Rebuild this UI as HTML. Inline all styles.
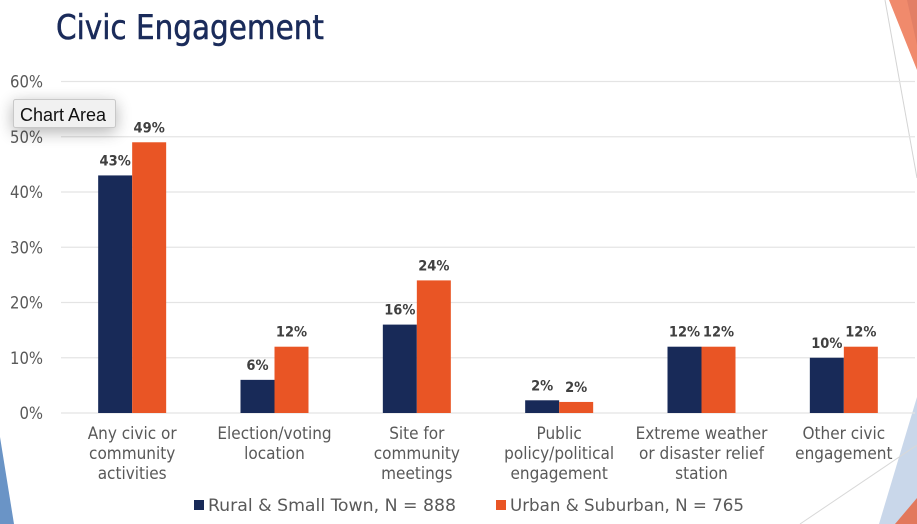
<!DOCTYPE html>
<html><head><meta charset="utf-8">
<style>
html,body{margin:0;padding:0;background:#fff;width:917px;height:524px;overflow:hidden}
svg{display:block;font-family:"DejaVu Sans","Liberation Sans",sans-serif;font-stretch:condensed}
</style></head>
<body>
<svg id="chart" width="917" height="524" viewBox="0 0 917 524" xmlns="http://www.w3.org/2000/svg">
<defs><filter id="sh" x="-40%" y="-60%" width="180%" height="220%"><feGaussianBlur stdDeviation="8"/></filter></defs>
<g>
<polygon points="889,0 917,0 917,70" fill="#f08a6c"/>
<polygon points="907,0 917,0 917,45" fill="#e27f66"/>
<line x1="885" y1="0" x2="917" y2="178" stroke="#d4d4d4"/>
<polygon points="917,397 917,524 879,524" fill="#c9d7ea"/>
<polygon points="917,498 917,524 895,524" fill="#e2785c"/>
<line x1="800" y1="524" x2="917" y2="445" stroke="#d8d8d8"/>
<polygon points="0,437 14,524 0,524" fill="#6a94c6"/>
</g>
<text x="56" y="39" font-size="34" fill="#1a2b5a" stroke="#1a2b5a" stroke-width=".5" textLength="268" lengthAdjust="spacingAndGlyphs">Civic Engagement</text>
<g id="grid"></g><g id="bars"></g><g id="labels"></g><g id="cats"></g>
<g>
<rect x="194" y="500" width="10" height="10" fill="#182a58"/>
<text x="208" y="511" font-size="16.5" fill="#595959" textLength="248" lengthAdjust="spacingAndGlyphs">Rural &amp; Small Town, N = 888</text>
<rect x="496" y="500" width="10" height="10" fill="#e95525"/>
<text x="510" y="511" font-size="16.5" fill="#595959" textLength="234" lengthAdjust="spacingAndGlyphs">Urban &amp; Suburban, N = 765</text>
</g>
<g>
<rect x="13" y="103" width="103" height="29" fill="#000" opacity=".3" filter="url(#sh)"/>
<rect x="13.5" y="99.5" width="102" height="28" rx="2" fill="#f1f1f1" stroke="#c8c8c8"/>
<text x="20" y="121" font-size="18" fill="#111" font-family="Liberation Sans, sans-serif">Chart Area</text>
</g>
</svg>
<script>
const categories=[["Any civic or","community","activities"],["Election/voting","location"],["Site for","community","meetings"],["Public","policy/political","engagement"],["Extreme weather","or disaster relief","station"],["Other civic","engagement"]];
const rural=[43,6,16,2.3,12,10];
const urban=[49,12,24,2,12,12];
const ruralLabels=["43%","6%","16%","2%","12%","10%"];
const urbanLabels=["49%","12%","24%","2%","12%","12%"];
const ticks=[0,10,20,30,40,50,60];
const NS="http://www.w3.org/2000/svg";
const y=v=>413-v*(331.5/60);
const xc=i=>61+854/categories.length*(i+.5);
const barW=34;
function mk(parent,tag,attrs,text){
  const e=document.createElementNS(NS,tag);
  for(const k in attrs)e.setAttribute(k,attrs[k]);
  if(text!==undefined)e.textContent=text;
  document.getElementById(parent).appendChild(e);
  return e;
}
ticks.forEach(t=>{
  const l=mk('grid','line',{x1:61,x2:915,y1:y(t),y2:y(t),stroke:'#e4e4e4','stroke-width':1.2});
  
  
  const s=mk('grid','text',{x:43,y:y(t)+6,'font-size':16.5,fill:'#595959','text-anchor':'end'},t+'%');
  
  
});
categories.forEach((c,i)=>{
  const r=mk('bars','rect',{x:xc(i)-barW,y:y(rural[i]),width:barW,height:y(0)-y(rural[i]),fill:'#182a58'});
  
  
  const u=mk('bars','rect',{x:xc(i),y:y(urban[i]),width:barW,height:y(0)-y(urban[i]),fill:'#e95525'});
  
  
  const a=mk('labels','text',{x:xc(i)-barW/2,y:y(rural[i])-10,'font-size':14.5,'font-weight':'bold',fill:'#404040','text-anchor':'middle'},ruralLabels[i]);
  
  
  const b=mk('labels','text',{x:xc(i)+barW/2,y:y(urban[i])-10,'font-size':14.5,'font-weight':'bold',fill:'#404040','text-anchor':'middle'},urbanLabels[i]);
  
  
  c.forEach((line,j)=>{
    const t=mk('cats','text',{x:xc(i),y:439+j*20,'font-size':17,fill:'#595959','text-anchor':'middle'},line);
    
    
  });
});
</script>
</body></html>
